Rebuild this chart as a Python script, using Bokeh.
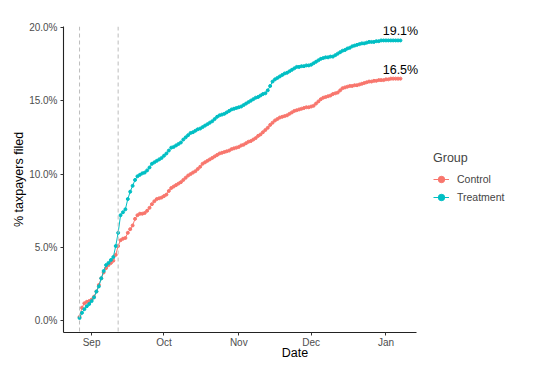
import datetime as dt
from bokeh.plotting import figure
from bokeh.models import (ColumnDataSource, Span, Legend, LegendItem, PrintfTickFormatter,
                          DatetimeTickFormatter, MonthsTicker, FixedTicker, Range1d)
from bokeh.embed import file_html
from bokeh.resources import INLINE
from bokeh.core.properties import value

# ---------------- data ----------------
start_date = dt.datetime(2019, 8, 27)
event_dates = [dt.datetime(2019, 8, 27), dt.datetime(2019, 9, 12)]
y_ticks = [0, 5, 10, 15, 20]

control = [
    0.27, 0.9, 1.2, 1.3, 1.35, 1.45, 1.65, 2.0, 2.45, 2.9,
    3.3, 3.6, 3.8, 3.95, 4.1, 4.5, 5.1, 5.5, 5.6, 5.65,
    6.0, 6.25, 6.5, 6.95, 7.2, 7.3, 7.3, 7.35, 7.5, 7.7,
    7.95, 8.15, 8.3, 8.35, 8.4, 8.5, 8.6, 8.85, 9.05, 9.15,
    9.25, 9.35, 9.45, 9.6, 9.75, 9.9, 10.0, 10.1, 10.2, 10.35,
    10.5, 10.7, 10.8, 10.9, 11.0, 11.1, 11.2, 11.3, 11.4, 11.45,
    11.5, 11.55, 11.6, 11.7, 11.75, 11.8, 11.85, 11.95, 12.0, 12.1,
    12.2, 12.25, 12.35, 12.45, 12.6, 12.7, 12.85, 13.0, 13.15, 13.35,
    13.5, 13.65, 13.75, 13.85, 13.9, 13.95, 14.0, 14.1, 14.2, 14.3,
    14.35, 14.4, 14.45, 14.5, 14.55, 14.55, 14.6, 14.65, 14.8, 14.95,
    15.1, 15.2, 15.25, 15.3, 15.35, 15.45, 15.5, 15.55, 15.7, 15.85,
    15.9, 15.95, 16.0, 16.0, 16.05, 16.05, 16.1, 16.15, 16.2, 16.25,
    16.3, 16.3, 16.35, 16.35, 16.4, 16.4, 16.4, 16.45, 16.45, 16.5,
    16.5, 16.5, 16.5, 16.5,
]

treatment = [
    0.2, 0.55, 0.8, 1.0, 1.15, 1.35, 1.6, 2.0, 2.35, 2.9,
    3.4, 3.8, 3.95, 4.15, 4.35, 5.1, 6.0, 7.2, 7.4, 7.6,
    8.3, 8.8, 9.2, 9.6, 9.85, 9.95, 10.05, 10.1, 10.25, 10.45,
    10.7, 10.8, 10.9, 11.0, 11.1, 11.25, 11.4, 11.6, 11.8, 11.85,
    11.95, 12.05, 12.15, 12.35, 12.5, 12.65, 12.8, 12.85, 12.95, 13.05,
    13.1, 13.2, 13.3, 13.4, 13.5, 13.6, 13.75, 13.9, 14.0, 14.05,
    14.1, 14.2, 14.3, 14.4, 14.45, 14.5, 14.55, 14.6, 14.7, 14.8,
    14.9, 15.0, 15.1, 15.2, 15.25, 15.35, 15.45, 15.5, 15.7, 16.0,
    16.3, 16.45, 16.55, 16.65, 16.75, 16.85, 16.9, 17.0, 17.1, 17.2,
    17.3, 17.3, 17.35, 17.35, 17.4, 17.4, 17.45, 17.55, 17.65, 17.75,
    17.85, 17.9, 17.95, 17.95, 18.0, 18.0, 18.1, 18.2, 18.3, 18.4,
    18.45, 18.55, 18.6, 18.7, 18.75, 18.8, 18.85, 18.9, 18.9, 18.95,
    19.0, 19.0, 19.0, 19.05, 19.05, 19.1, 19.1, 19.1, 19.1, 19.1,
    19.1, 19.1, 19.1, 19.1,
]

groups = ["Control", "Treatment"]
colors = ["#F8766D", "#00BFC4"]

dates = [start_date + dt.timedelta(days=i) for i in range(len(control))]


def ms(d):
    return (d - dt.datetime(1970, 1, 1)).total_seconds() * 1000.0


xs = [ms(d) for d in dates]

# ---------------- layout ----------------
FONT = "Liberation Sans"
PANEL_W = 353      # width of the data panel (px)
LEGEND_W = 110     # room to the right for the legend
FRAME_H = 306

x0 = xs[0] - (xs[-1] - xs[0]) * 0.05
x1 = xs[-1] + (xs[-1] - xs[0]) * 0.05
x_end = x0 + (x1 - x0) * (PANEL_W + LEGEND_W) / PANEL_W

ymin = min(min(control), min(treatment))
ymax = max(max(control), max(treatment), 20.0)
ypad = (ymax - ymin) * 0.05

p = figure(frame_width=PANEL_W + LEGEND_W, frame_height=FRAME_H,
           output_backend="svg", toolbar_location=None,
           x_axis_type="datetime",
           x_range=Range1d(x0, x_end),
           y_range=Range1d(ymin - ypad, ymax + 0.05),
           min_border_left=63, min_border_top=26, min_border_bottom=0, min_border_right=0)

p.outline_line_color = None
p.xgrid.visible = False
p.ygrid.visible = False
p.background_fill_color = "white"
p.border_fill_color = "white"

for d in event_dates:
    p.add_layout(Span(location=ms(d), dimension="height", line_color="#BDBDBD",
                      line_dash="4 3", line_width=1))

renderers = []
for name, vals, col in zip(groups, [control, treatment], colors):
    src = ColumnDataSource(dict(x=xs, y=vals))
    ln = p.line("x", "y", source=src, line_color=col, line_width=1.0)
    sc = p.scatter("x", "y", source=src, size=3.0, fill_color=col, line_color=col)
    renderers.append((name, [ln, sc]))

# end labels
end_src = ColumnDataSource(dict(x=[xs[-1], xs[-1]],
                                y=[treatment[-1], control[-1]],
                                t=[f"{treatment[-1]:.1f}%", f"{control[-1]:.1f}%"]))
p.text("x", "y", text="t", source=end_src, text_align="center", text_baseline="bottom",
       y_offset=-2, text_font=value(FONT), text_font_size="12.5px", text_color="black")

# axes
p.xaxis.ticker = MonthsTicker(months=list(range(12)))
p.xaxis.formatter = DatetimeTickFormatter(months="%b", days="%b", years="%b")
p.xaxis.bounds = (x0, x1)
p.yaxis.ticker = FixedTicker(ticks=y_ticks)
p.yaxis.formatter = PrintfTickFormatter(format="%.1f%%")

for ax in [p.xaxis[0], p.yaxis[0]]:
    ax.axis_line_color = "#222222"
    ax.axis_line_width = 1.1
    ax.major_tick_line_color = "#333333"
    ax.major_tick_out = 3
    ax.major_tick_in = 0
    ax.minor_tick_line_color = None
    ax.major_label_text_font = FONT
    ax.major_label_text_font_size = "10px"
    ax.major_label_text_color = "#4D4D4D"
    ax.axis_label_text_font = FONT
    ax.axis_label_text_font_size = "12.5px"
    ax.axis_label_text_font_style = "normal"
    ax.axis_label_text_color = "black"

p.xaxis.axis_label = "Date"
p.yaxis.axis_label = "% taxpayers filed"
p.xaxis.major_label_standoff = 1
p.xaxis.axis_label_standoff = -5
p.yaxis.major_label_standoff = 3
p.yaxis.axis_label_standoff = 0

legend = Legend(items=[LegendItem(label=n, renderers=r) for n, r in renderers],
                title="Group", location=(PANEL_W + 17, 127))
legend.title_text_font = FONT
legend.title_text_font_size = "12.5px"
legend.title_text_font_style = "normal"
legend.title_standoff = 6
legend.label_text_font = FONT
legend.label_text_font_size = "10.5px"
legend.glyph_width = 16
legend.glyph_height = 16
legend.label_standoff = 8
legend.spacing = 2
legend.padding = 6
legend.margin = 0
legend.border_line_color = None
legend.background_fill_alpha = 0
p.add_layout(legend, "center")

open("out.html", "w").write(file_html(p, INLINE))
